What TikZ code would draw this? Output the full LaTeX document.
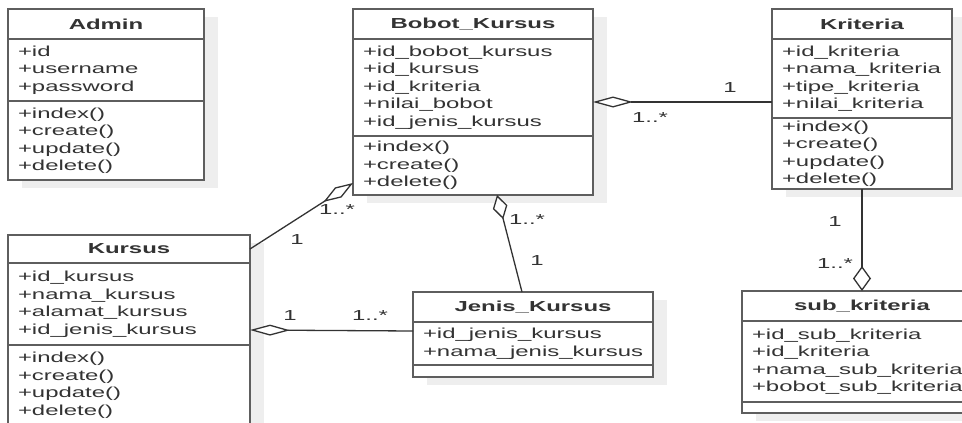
\documentclass[tikz,border=0pt]{standalone}
\usepackage{fontspec}
\setmainfont{Liberation Sans}[FakeStretch=1.65]
\usepackage{xcolor}
\usetikzlibrary{positioning,arrows.meta,shadows}

\definecolor{boxline}{HTML}{5E5E5E}
\definecolor{boxtext}{HTML}{333333}
\definecolor{boxshadow}{HTML}{EEEEEE}
\definecolor{linkline}{HTML}{333333}

\tikzset{
  umlpart/.style={rectangle,draw=boxline,line width=1.6pt,fill=white,text=boxtext,
    inner xsep=10pt,inner ysep=0pt,outer sep=0pt,
    drop shadow={shadow xshift=14pt,shadow yshift=-8pt,fill=boxshadow,opacity=1},
    font=\fontsize{14.5}{17.5}\selectfont},
  umltitle/.style={umlpart,font=\fontsize{14.5}{17.5}\selectfont\bfseries,
    minimum width=#1,minimum height=30pt},
  umlbody/.style={umlpart,align=left,text width=#1},
  link/.style={draw=linkline,line width=1.3pt},
  mult/.style={text=boxtext,inner sep=0pt,font=\fontsize{14.5}{17.5}\selectfont}
}

\begin{document}
\begin{tikzpicture}[x=1pt,y=-1pt]
\path[use as bounding box,clip] (0,0) rectangle (962,423);
%% classes
\node (admint) [umltitle=196pt,anchor=north west] at (8,9) {Admin};
\node (admina) [umlbody=176pt,minimum height=62pt,below=0pt of admint] {+id\\+username\\+password};
\node (adminm) [umlbody=176pt,minimum height=79pt,below=0pt of admina] {+index()\\+create()\\+update()\\+delete()};

\node (bobott) [umltitle=240pt,anchor=north west] at (353,9) {Bobot\_Kursus};
\node (bobota) [umlbody=220pt,minimum height=97pt,below=0pt of bobott] {+id\_bobot\_kursus\\+id\_kursus\\+id\_kriteria\\+nilai\_bobot\\+id\_jenis\_kursus};
\node (bobotm) [umlbody=220pt,minimum height=59pt,below=0pt of bobota] {+index()\\+create()\\+delete()};

\node (kritt) [umltitle=180pt,anchor=north west] at (772,9) {Kriteria};
\node (krita) [umlbody=160pt,minimum height=79pt,below=0pt of kritt] {+id\_kriteria\\+nama\_kriteria\\+tipe\_kriteria\\+nilai\_kriteria};
\node (kritm) [umlbody=160pt,minimum height=71pt,below=0pt of krita] {+index()\\+create()\\+update()\\+delete()};

\node (kursust) [umltitle=242pt,minimum height=28pt,anchor=north west] at (8,235) {Kursus};
\node (kursusa) [umlbody=222pt,minimum height=82pt,below=0pt of kursust] {+id\_kursus\\+nama\_kursus\\+alamat\_kursus\\+id\_jenis\_kursus};
\node (kursusm) [umlbody=222pt,minimum height=80pt,below=0pt of kursusa] {+index()\\+create()\\+update()\\+delete()};

\node (jenist) [umltitle=240pt,anchor=north west] at (413,292) {Jenis\_Kursus};
\node (jenisa) [umlbody=220pt,minimum height=43pt,below=0pt of jenist] {+id\_jenis\_kursus\\+nama\_jenis\_kursus};
\node (jenism) [umlbody=220pt,minimum height=12pt,below=0pt of jenisa] {};

\node (subt) [umltitle=240pt,anchor=north west] at (742,291) {sub\_kriteria};
\node (suba) [umlbody=220pt,minimum height=81pt,below=0pt of subt] {+id\_sub\_kriteria\\+id\_kriteria\\+nama\_sub\_kriteria\\+bobot\_sub\_kriteria};
\node (subm) [umlbody=220pt,minimum height=11pt,below=0pt of suba] {};

%% associations
\draw[link,-{Diamond[fill=white,length=35pt,width=12pt]}] (kursust.east) -- ([yshift=-17.5pt]bobotm.west);
\draw[link,{Diamond[fill=white,length=40pt,width=11pt]}-] ([yshift=-26pt]kursusa.east) -- ([yshift=12.5pt]jenisa.west);
\draw[link,{Diamond[fill=white,length=25pt,width=15pt]}-] ([xshift=24pt]bobotm.south) -- ([xshift=-11pt]jenist.north);
\draw[link,{Diamond[fill=white,length=40pt,width=11pt]}-] ([yshift=-14.5pt]bobota.east) -- ([yshift=-23.5pt]krita.west);
\draw[link,-{Diamond[fill=white,length=25pt,width=18pt]}] (kritm.south) -- (subt.north);

%% multiplicities
\path (337,210) node (m1) [mult] {1..*}
(297,240) node (m2) [mult] {1}
(290,316) node (m3) [mult] {1}
(370,316) node (m4) [mult] {1..*}
(527,220) node (m5) [mult] {1..*}
(537,261) node (m6) [mult] {1}
(730,88) node (m7) [mult] {1}
(650,118) node (m8) [mult] {1..*}
(835,222) node (m9) [mult] {1}
(835,264) node (m10) [mult] {1..*};
\end{tikzpicture}
\end{document}
